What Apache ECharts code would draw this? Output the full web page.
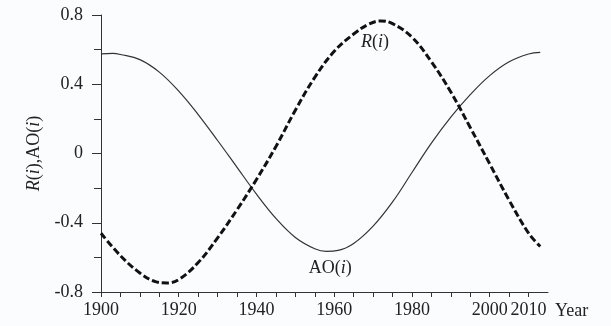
<!DOCTYPE html>
<html>
<head>
<meta charset="utf-8">
<script src="https://cdn.jsdelivr.net/npm/echarts@6/dist/echarts.min.js"></script>
<style>
  html, body { margin: 0; padding: 0; background: #fbfcfd; }
  #chart { width: 611px; height: 326px; }
</style>
</head>
<body>
<div id="chart"></div>
<script>
// R(i) - thick dashed curve, years and values
const rYears = [1900, 1905, 1910, 1914, 1917, 1920, 1925, 1930, 1935, 1940, 1945, 1950, 1955,
  1960, 1965, 1969, 1972, 1975, 1980, 1985, 1990, 1995, 2000, 2005, 2010, 2013]
const rValues = [-0.461, -0.59, -0.69, -0.74, -0.748, -0.728, -0.63, -0.487, -0.325, -0.15, 0.04, 0.25, 0.44,
  0.59, 0.69, 0.748, 0.766, 0.75, 0.672, 0.53, 0.355, 0.15, -0.06, -0.27, -0.46, -0.537]
// AO(i) - thin solid curve
const aoYears = [1900, 1903, 1905, 1910, 1915, 1920, 1925, 1930, 1935, 1940, 1945, 1950, 1955,
  1958, 1961, 1965, 1970, 1975, 1980, 1985, 1990, 1995, 2000, 2005, 2010, 2013]
const aoValues = [0.575, 0.578, 0.572, 0.542, 0.47, 0.36, 0.225, 0.075, -0.08, -0.235, -0.375, -0.485, -0.55,
  -0.565, -0.56, -0.52, -0.42, -0.28, -0.11, 0.06, 0.21, 0.34, 0.45, 0.53, 0.575, 0.584]
// x axis labels / ticks
const xTickLabels = [1900, 1920, 1940, 1960, 1980, 2000, 2010]
const xTicks = [1900, 1905, 1910, 1915, 1920, 1925, 1930, 1935, 1940, 1945, 1950, 1955,
  1960, 1965, 1970, 1975, 1980, 1985, 1990, 1995, 2000, 2005, 2010]

const font = 'Liberation Serif'
const ink = '#222'
const italic = { fontStyle: 'italic', fontFamily: font, fontSize: 18, color: ink }

const rData = rYears.map((y, i) => [y, rValues[i]])
const aoData = aoYears.map((y, i) => [y, aoValues[i]])

const chart = echarts.init(document.getElementById('chart'))
chart.setOption({
  animation: false,
  backgroundColor: '#fbfcfd',
  grid: { left: 101, right: 63, top: 15, bottom: 34 },
  xAxis: {
    type: 'value',
    min: 1900,
    max: 2015,
    interval: 5,
    name: 'Year',
    nameLocation: 'end',
    nameGap: 7,
    nameTextStyle: { fontFamily: font, fontSize: 18, color: ink, verticalAlign: 'top', padding: [10, 0, 0, 0] },
    axisLine: { onZero: false, lineStyle: { color: '#333', width: 1 } },
    axisTick: { show: true, length: 5, customValues: xTicks, lineStyle: { color: '#333' } },
    axisLabel: {
      customValues: xTickLabels,
      hideOverlap: false,
      margin: 9,
      fontFamily: font,
      fontSize: 18,
      color: ink,
      formatter: v => String(v)
    },
    splitLine: { show: false }
  },
  yAxis: {
    type: 'value',
    min: -0.8,
    max: 0.8,
    interval: 0.4,
    name: '{i|R}({i|i}),AO({i|i})',
    nameLocation: 'middle',
    nameGap: 40,
    nameTextStyle: { fontFamily: font, fontSize: 18, color: ink, rich: { i: italic } },
    axisLine: { show: true, lineStyle: { color: '#333', width: 1 } },
    axisTick: { show: true, length: 9, lineStyle: { color: '#333' } },
    minorTick: { show: true, splitNumber: 2, length: 7, lineStyle: { color: '#333' } },
    axisLabel: { margin: 18, fontFamily: font, fontSize: 18, color: ink },
    splitLine: { show: false }
  },
  series: [
    {
      name: 'AO',
      type: 'line',
      data: aoData,
      smooth: 0.4,
      showSymbol: false,
      lineStyle: { color: '#333', width: 1.2 },
      markPoint: {
        symbolSize: 1,
        itemStyle: { color: 'transparent' },
        label: {
          show: true,
          formatter: 'AO({i|i})',
          fontFamily: font,
          fontSize: 18,
          color: ink,
          rich: { i: italic }
        },
        data: [{ coord: [1959, -0.666] }]
      }
    },
    {
      name: 'R',
      type: 'line',
      data: rData,
      smooth: 0.4,
      showSymbol: false,
      lineStyle: { color: '#111', width: 3, type: [7, 3] },
      markPoint: {
        symbolSize: 1,
        itemStyle: { color: 'transparent' },
        label: {
          show: true,
          formatter: '{i|R}({i|i})',
          fontFamily: font,
          fontSize: 18,
          color: ink,
          rich: { i: italic }
        },
        data: [{ coord: [1970.5, 0.64] }]
      }
    }
  ]
})
</script>
</body>
</html>
